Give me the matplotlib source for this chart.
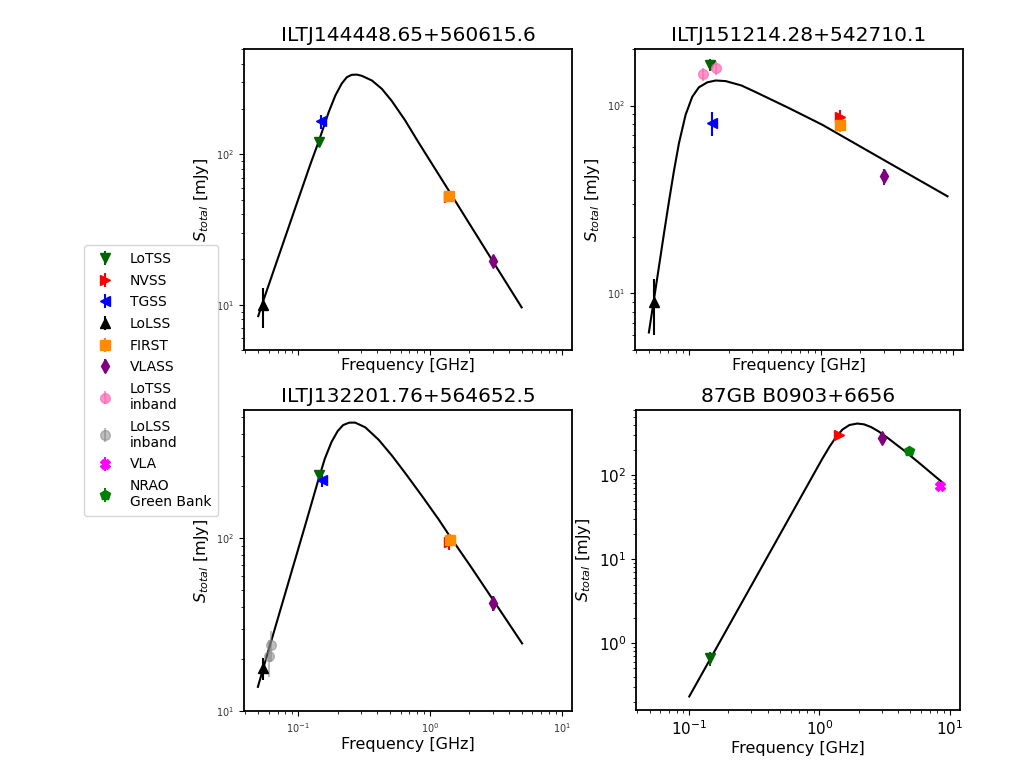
import matplotlib
matplotlib.use('Agg')
import matplotlib.pyplot as plt
import numpy as np

# ---- data (GHz, mJy) ----
titles = ['ILTJ144448.65+560615.6', 'ILTJ151214.28+542710.1',
          'ILTJ132201.76+564652.5', '87GB B0903+6656']

# top left
tl_survey = ['LoTSS', 'NVSS', 'TGSS', 'LoLSS', 'FIRST', 'VLASS']
tl_freq = [0.144, 1.4, 0.150, 0.054, 1.4, 3.0]
tl_flux = [120, 52, 165, 10.0, 53, 19.4]
tl_err = [8, 3, 17, 3.0, 3, 1.5]
tl_model_freq = [0.05, 0.0533, 0.1, 0.125, 0.142, 0.156, 0.171, 0.192, 0.215, 0.235,
                 0.256, 0.28, 0.305, 0.364, 0.433, 0.515, 0.65, 0.821, 1.4, 2.95, 4.98]
tl_model_flux = [8.4, 10.0, 49.5, 87, 118, 150, 190, 245, 295, 325,
                 337, 338, 332, 309, 272, 226, 168, 120, 57, 20.0, 9.6]

# top right
tr_survey = ['LoTSS', 'NVSS', 'TGSS', 'LoLSS', 'FIRST', 'VLASS', 'LoTSS\ninband', 'LoTSS\ninband']
tr_freq = [0.144, 1.4, 0.150, 0.054, 1.4, 3.0, 0.128, 0.160]
tr_flux = [164, 87, 81, 9.0, 79, 42, 147, 159]
tr_err = [12, 8, 12, 3.0, 7, 4, 12, 13]
tr_model_freq = [0.0497, 0.0542, 0.0591, 0.0646, 0.0705, 0.0769, 0.084, 0.0944, 0.106, 0.119,
                 0.138, 0.16, 0.19, 0.25, 0.321, 0.574, 1.03, 1.845, 3.3, 5.91, 9.16]
tr_model_flux = [6.2, 9.2, 13.7, 20.7, 30.7, 44.6, 62.9, 89.3, 111.3, 125,
                 133, 136, 135, 128, 118, 97, 79, 62.5, 49.5, 39.2, 32.9]

# bottom left
bl_survey = ['LoTSS', 'NVSS', 'TGSS', 'LoLSS', 'FIRST', 'VLASS', 'LoLSS\ninband', 'LoLSS\ninband']
bl_freq = [0.144, 1.4, 0.152, 0.054, 1.42, 3.0, 0.060, 0.063]
bl_flux = [232, 95, 218, 17.7, 98, 42, 20.8, 24.1]
bl_err = [15, 10, 20, 2.5, 8, 4, 5, 5]
bl_model_freq = [0.0497, 0.0533, 0.0635, 0.085, 0.1137, 0.1436, 0.16, 0.18, 0.2, 0.22,
                 0.245, 0.272, 0.324, 0.41, 0.518, 0.653, 0.874, 1.17, 1.39, 2.1, 3.0, 5.02]
bl_model_flux = [13.8, 16.6, 26.2, 55.9, 119, 220, 288, 360, 415, 450,
                 465, 465, 437, 370, 299, 237, 175, 128, 105, 66.5, 44.3, 24.6]

# bottom right
br_survey = ['LoTSS', 'NVSS', 'VLASS', 'NRAO\nGreen Bank', 'VLA']
br_freq = [0.144, 1.4, 3.0, 4.85, 8.4]
br_flux = [0.66, 300, 280, 195, 75]
br_err = [0.12, 20, 40, 20, 8]
br_model_freq = [0.1, 1.05, 1.2, 1.35, 1.5, 1.7, 1.95, 2.2, 2.5, 2.85,
                 3.3, 4.42, 5.91, 8.65]
br_model_flux = [0.232, 157, 222, 290, 351, 398, 414, 405, 375, 333,
                 283, 200, 138, 84]

legend_order = ['LoTSS', 'NVSS', 'TGSS', 'LoLSS', 'FIRST', 'VLASS',
                'LoTSS\ninband', 'LoLSS\ninband', 'VLA', 'NRAO\nGreen Bank']
styles = {
    'LoTSS': ('v', 'darkgreen', 1.0),
    'NVSS': ('>', 'red', 1.0),
    'TGSS': ('<', 'blue', 1.0),
    'LoLSS': ('^', 'black', 1.0),
    'FIRST': ('s', 'darkorange', 1.0),
    'VLASS': ('d', 'purple', 1.0),
    'LoTSS\ninband': ('o', 'hotpink', 0.7),
    'LoLSS\ninband': ('o', 'gray', 0.5),
    'VLA': ('X', 'magenta', 1.0),
    'NRAO\nGreen Bank': ('p', 'green', 1.0),
}

fig = plt.figure(figsize=(10.24, 7.77), dpi=100)
positions = [[0.2383, 0.5495, 0.3203, 0.3874],
             [0.6201, 0.5495, 0.3203, 0.3874],
             [0.2383, 0.0849, 0.3203, 0.3874],
             [0.6211, 0.0862, 0.3164, 0.3861]]
ylims = [(5, 500), (5, 200), (10, 550), (0.16, 600)]
panels = [(tl_survey, tl_freq, tl_flux, tl_err, tl_model_freq, tl_model_flux),
          (tr_survey, tr_freq, tr_flux, tr_err, tr_model_freq, tr_model_flux),
          (bl_survey, bl_freq, bl_flux, bl_err, bl_model_freq, bl_model_flux),
          (br_survey, br_freq, br_flux, br_err, br_model_freq, br_model_flux)]

handles = {}
for i, (survey, freq, flux, err, mfreq, mflux) in enumerate(panels):
    ax = fig.add_axes(positions[i])
    ax.plot(mfreq, mflux, color='black', lw=1.5, zorder=1)
    for s, f, y, e in zip(survey, freq, flux, err):
        marker, color, alpha = styles[s]
        h = ax.errorbar(f, y, yerr=e, fmt=marker, color=color, ms=7, alpha=alpha,
                        elinewidth=1.5, label=s, zorder=3)
        handles.setdefault(s, h)
    ax.set_xscale('log')
    ax.set_yscale('log')
    ax.set_xlim(0.039, 12)
    ax.set_ylim(*ylims[i])
    ax.set_title(titles[i], fontsize=14.5)
    ax.set_xlabel('Frequency [GHz]', fontsize=11.5, labelpad=2)
    ax.set_ylabel(r'$S_{total}$ [mJy]', fontsize=11.5)
    for sp in ax.spines.values():
        sp.set_linewidth(1.3)
    if i == 3:
        ax.tick_params(axis='both', which='major', labelsize=11)
    else:
        ax.tick_params(axis='both', which='major', labelsize=7, labelcolor='#333333')
        if i < 2:
            ax.tick_params(axis='x', which='both', labelbottom=False)

leg_handles = [handles[k] for k in legend_order if k in handles]
leg_labels = [k for k in legend_order if k in handles]
fig.legend(leg_handles, leg_labels, loc='upper left',
           bbox_to_anchor=(84 / 1024, 1 - 245 / 777), borderaxespad=0,
           fontsize=10, handletextpad=0.8, labelspacing=0.55, borderpad=0.5)

fig.savefig('out.png', dpi=100)
